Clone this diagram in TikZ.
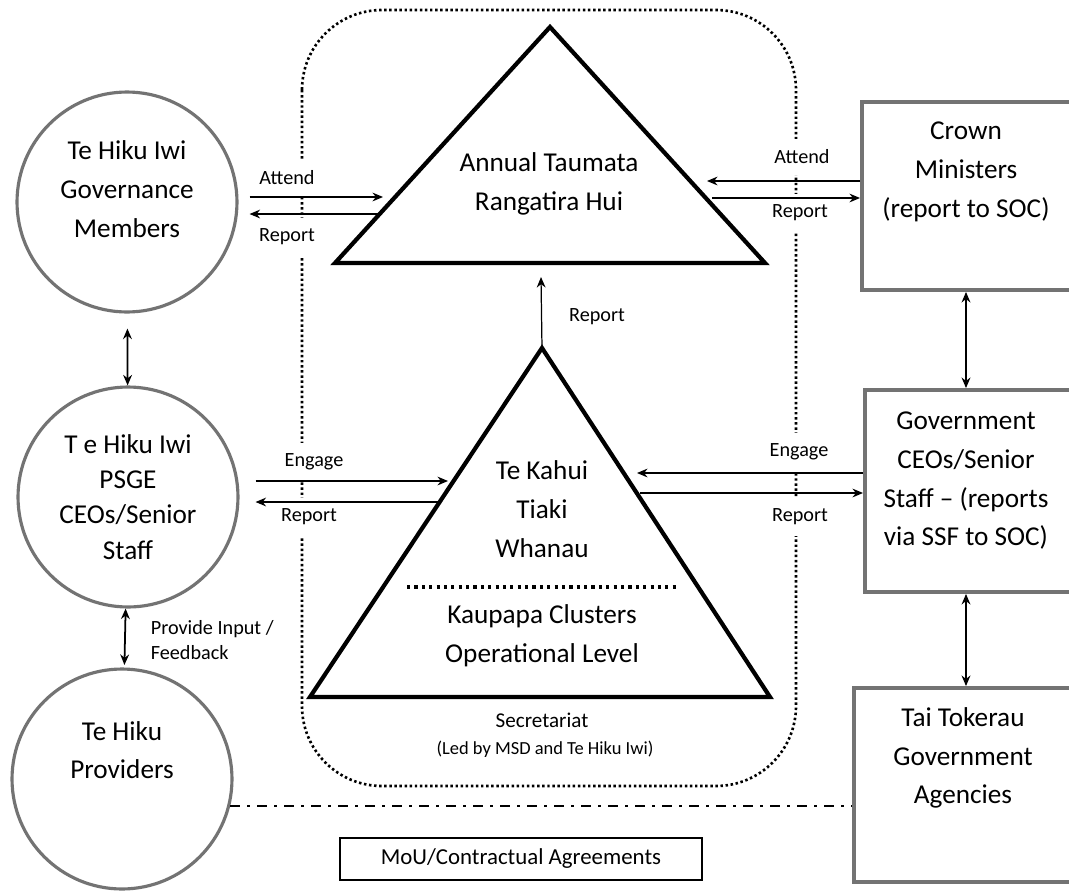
\documentclass[tikz,border=0pt]{standalone}
\usepackage{fontspec}
\setmainfont{Carlito}
\usetikzlibrary{arrows.meta,positioning}

\tikzset{
	hub/.style={circle, draw=black!55, line width=1.8pt, minimum size=4.4cm, inner sep=0pt, align=center, font=\fontsize{15.5}{20}\selectfont},
	govbox/.style={rectangle, draw=black!55, line width=2.2pt, minimum width=4.8cm, anchor=west},
	bigtext/.style={align=center, font=\fontsize{15.5}{22}\selectfont},
	smalltext/.style={font=\fontsize{11.5}{14}\selectfont, fill=white, inner xsep=2pt, inner ysep=6pt},
	flow/.style={-{Stealth[length=6pt,width=5pt]}, line width=0.7pt},
	both/.style={{Stealth[length=6pt,width=5pt]}-{Stealth[length=6pt,width=5pt]}, line width=1pt},
	pyramid/.style={line width=2.4pt, line join=miter},
}

\begin{document}
\begin{tikzpicture}[x=0.02cm, y=-0.02cm]

\useasboundingbox (0,0) rectangle (1069,893);
\clip (0,0) rectangle (1069,893);

% dotted frame round the hui
\draw[line width=1.5pt, dash pattern=on 1.4pt off 1.5pt, rounded corners=1.6cm] (302,10) rectangle (796,786);

\coordinate (hui-top) at (550,27);
\coordinate (hui-bl) at (335,263);
\coordinate (hui-br) at (765,263);
\draw[pyramid] (hui-bl) -- (hui-top) -- (hui-br) -- cycle;
\node (hui) at (549,184) [bigtext] {Annual Taumata\\Rangatira Hui};

\coordinate (kahui-top) at (542,348);
\coordinate (kahui-bl) at (310,697);
\coordinate (kahui-br) at (770,697);
\draw[pyramid] (kahui-bl) -- (kahui-top) -- (kahui-br) -- cycle;
\node (kahui) at (542,509) [bigtext] {Te Kahui\\Tiaki\\Whanau};
\draw[line width=1.8pt, dash pattern=on 1.8pt off 2.4pt] (407,587) -- (680,587);
\node (kaupapa) at (542,636) [bigtext] {Kaupapa Clusters\\Operational Level};
\node (sec) at (542,720) [font=\fontsize{12}{14}\selectfont] {Secretariat};
\node (sec-led) at (545,749) [font=\fontsize{10.5}{13}\selectfont] {(Led by MSD and Te Hiku Iwi)};

\node (gov) at (127,202) [hub] {};
\node (gov-txt) at (127,189) [bigtext] {Te Hiku Iwi\\Governance\\Members};
\node (psge) at (128,497) [hub] {T e Hiku Iwi\\PSGE\\CEOs/Senior\\Staff};
\node (prov) at (122,779) [hub] {};
\node (prov-txt) at (122,750) [bigtext] {Te Hiku\\Providers};

\node (crown) at (860,196) [govbox, minimum height=3.76cm] {};
\node (crown-txt) at (966,172) [bigtext] {Crown\\Ministers\\(report to SOC)};
\node (ceo) at (863,491) [govbox, minimum height=4.04cm] {};
\node (ceo-txt) at (966,481) [bigtext] {Government\\CEOs/Senior\\Staff -- (reports\\via SSF to SOC)};
\node (tai) at (852,785) [govbox, minimum height=3.88cm] {};
\node (tai-txt) at (963,758) [bigtext] {Tai Tokerau\\Government\\Agencies};

\node (mou) at (521,859) [draw, line width=0.8pt, minimum width=7.24cm, minimum height=0.84cm, font=\fontsize{13}{15}\selectfont] {MoU/Contractual Agreements};

\node (l-att) at (287,178) [smalltext] {Attend};
\node (l-rep) at (287,237) [smalltext] {Report};
\node (r-att) at (802,157) [smalltext] {Attend};
\node (r-rep) at (800,213) [smalltext] {Report};
\node (l-eng) at (314,462) [smalltext] {Engage};
\node (l-rep2) at (309,517) [smalltext] {Report};
\node (r-eng) at (799,452) [smalltext] {Engage};
\node (r-rep2) at (800,517) [smalltext] {Report};
\node (up-rep) at (597,317) [smalltext] {Report};
\node (feedback) at (147,640) [smalltext, fill=none, inner ysep=0pt, anchor=west, align=left, font=\fontsize{11.5}{14.7}\selectfont] {Provide Input /\\Feedback};

\coordinate (hui-w1) at (383,197);
\coordinate (hui-w2) at (378,214);
\coordinate (hui-e1) at (707,181);
\coordinate (hui-e2) at (712,198);
\coordinate (kahui-w1) at (448,481);
\coordinate (kahui-w2) at (440,502);
\coordinate (kahui-e1) at (637,473);
\coordinate (kahui-e2) at (640,493);
\coordinate (hui-foot) at (541,277);

\draw[flow, shorten <=0.22cm] (gov.east |- hui-w1) -- (hui-w1);
\draw[flow, shorten >=0.22cm] (hui-w2) -- (gov.east |- hui-w2);
\draw[flow] (crown.west |- hui-e1) -- (hui-e1);
\draw[flow] (hui-e2) -- (crown.west |- hui-e2);
\draw[flow, shorten <=0.32cm] (psge.east |- kahui-w1) -- (kahui-w1);
\draw[flow, shorten >=0.32cm] (kahui-w2) -- (psge.east |- kahui-w2);
\draw[flow] (ceo.west |- kahui-e1) -- (kahui-e1);
\draw[flow] (kahui-e2) -- (ceo.west |- kahui-e2);
\draw[flow] (kahui-top) -- (hui-foot);

\draw[both, shorten <=0.3cm] (gov) -- (psge);
\draw[both, shorten >=0.05cm] (psge) -- (prov);
\draw[both] (crown-txt |- crown.south) -- (crown-txt |- ceo.north);
\draw[both] (ceo-txt |- ceo.south) -- (ceo-txt |- tai.north);

\draw[line width=1.6pt, dash pattern=on 0.2cm off 0.14cm on 0.06cm off 0.14cm] (prov.-14) -- (prov.-14 -| tai.west);

\end{tikzpicture}
\end{document}
